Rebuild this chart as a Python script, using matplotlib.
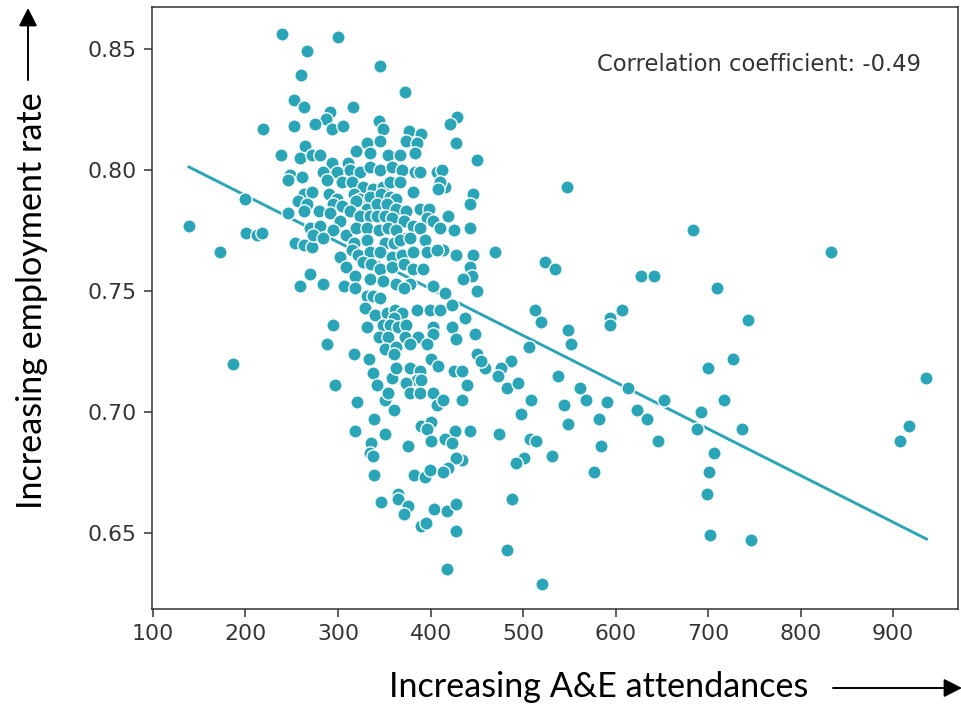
import matplotlib
matplotlib.use("Agg")
import matplotlib.pyplot as plt

# A&E attendances (x) and employment rate (y)
attendances = [
    240, 300, 267, 345, 260, 372, 252, 263, 291, 316, 287, 294, 305, 219, 252, 275, 344, 349, 429, 421, 377, 390,
    139, 172, 201, 212, 218, 200, 187,
    264, 331, 345, 374, 385, 427,
    238, 259, 272, 281, 293, 311, 319, 335, 354, 367, 383, 450,
    248, 246, 261, 284, 299, 313, 324, 335, 345, 358, 369, 383, 389, 407, 412, 416, 410,
    288, 304, 315, 327, 338, 349, 356, 367, 381, 408, 446,
    263, 272, 290, 299, 317, 324, 335, 347, 356, 363, 443,
    257, 266, 295, 304, 320, 331, 342, 353, 363, 374, 389, 398,
    246, 263, 279, 291, 302, 313, 324, 335, 342, 351, 358, 371, 381, 396, 403, 419,
    270, 281, 295, 309, 320, 331, 344, 354, 363, 374, 389, 410, 425, 443,
    254, 263, 272, 273, 284, 317, 331, 351, 360, 367, 378, 394, 414, 427,
    302, 315, 322, 335, 345, 358, 369, 381, 396, 407, 446,
    270, 309, 327, 336, 345, 358, 371, 381, 392, 443, 445,
    259, 284, 306, 318, 335, 349, 363, 378, 403, 435,
    318, 331, 338, 345, 371, 416, 329, 340, 353, 362, 369, 360, 385, 399, 410, 423, 437, 450,
    295, 331, 349, 356, 365, 374, 344, 354, 372, 387, 403, 403, 396, 423, 428, 448,
    288, 351, 363, 378, 360, 400, 408, 317, 333, 450, 338, 358, 363, 378, 389, 385, 374, 390,
    425, 434, 439, 297, 342, 351, 360, 354, 378, 389, 403, 407, 414, 434, 321, 339, 390, 400,
    396, 318, 351, 426, 443,
    336, 335, 338, 376, 401, 416, 423, 434, 428, 419, 414, 339, 382, 394, 399, 346, 365, 365,
    376, 371, 404, 418, 427, 390, 395, 427, 418,
    547, 684, 470, 524, 535, 628, 641, 710, 513, 519, 549, 552, 594, 594, 607, 459, 455, 506,
    487, 476, 473, 483, 494, 538, 509, 498, 474, 508, 514, 501, 492, 531, 544, 549, 562, 568,
    591, 582, 584, 577, 613, 623, 634, 652, 646, 692, 688, 700, 717, 706, 701, 699, 702, 488,
    483, 520,
    833, 743, 727, 737, 746, 936, 917, 907,
]
employment = [
    .856, .855, .849, .843, .839, .832, .829, .826, .824, .826, .821, .817, .818, .817, .818, .819, .820, .817, .822, .819, .816, .815,
    .777, .766, .774, .773, .774, .788, .720,
    .810, .811, .812, .812, .811, .811,
    .806, .805, .806, .806, .803, .803, .808, .807, .806, .806, .807, .804,
    .798, .796, .797, .799, .799, .800, .799, .801, .800, .801, .800, .799, .799, .799, .800, .793, .795,
    .796, .795, .795, .793, .792, .793, .795, .795, .791, .792, .790,
    .790, .791, .790, .788, .790, .788, .789, .790, .789, .788, .786,
    .787, .786, .786, .785, .787, .784, .786, .786, .784, .783, .784, .784,
    .782, .783, .783, .782, .779, .783, .781, .781, .781, .781, .780, .779, .777, .780, .779, .781,
    .776, .777, .775, .773, .776, .776, .775, .776, .775, .772, .776, .776, .775, .776,
    .770, .769, .768, .773, .772, .770, .771, .770, .770, .771, .772, .771, .767, .765,
    .764, .767, .765, .766, .766, .764, .765, .766, .766, .767, .765,
    .757, .760, .762, .761, .759, .760, .761, .759, .759, .760, .756,
    .752, .753, .752, .756, .755, .754, .753, .753, .752, .755,
    .751, .748, .748, .747, .751, .749, .743, .740, .741, .742, .741, .739, .742, .742, .742, .744, .739, .750,
    .736, .735, .736, .736, .735, .736, .731, .731, .731, .731, .735, .732, .728, .735, .730, .732,
    .728, .726, .727, .728, .724, .722, .719, .724, .722, .724, .716, .714, .718, .718, .717, .713, .712, .713,
    .717, .717, .711, .711, .711, .705, .701, .708, .708, .708, .708, .703, .705, .705, .704, .697, .694, .696,
    .693, .692, .691, .692, .692,
    .687, .683, .682, .686, .688, .689, .687, .680, .681, .677, .675, .674, .674, .673, .676, .663, .666, .664,
    .661, .658, .660, .659, .662, .653, .654, .651, .635,
    .793, .775, .766, .762, .759, .756, .756, .751, .742, .737, .734, .728, .739, .736, .742, .718, .721, .727,
    .721, .718, .715, .710, .712, .715, .705, .699, .691, .689, .688, .681, .679, .682, .703, .695, .710, .705,
    .704, .697, .686, .675, .710, .701, .697, .705, .688, .700, .693, .718, .705, .683, .675, .666, .649, .664,
    .643, .629,
    .766, .738, .722, .693, .647, .714, .694, .688,
]

# fitted trend line end points
trend_x = [139, 936]
trend_y = [0.8012, 0.6475]

x_ticks = [100, 200, 300, 400, 500, 600, 700, 800, 900]
y_ticks = [0.65, 0.70, 0.75, 0.80, 0.85]
corr_text = "Correlation coefficient: -0.49"
x_label = "Increasing A&E attendances"
y_label = "Increasing employment rate"

teal = "#2aa5b8"
dark = "#333333"

fig = plt.figure(figsize=(9.62, 7.05), dpi=100)
ax = fig.add_axes([0.158, 0.1362, 0.8378, 0.8532])

ax.scatter(attendances, employment, s=92, c=teal, edgecolors="white", linewidths=1.0, zorder=3)
ax.plot(trend_x, trend_y, color=teal, linewidth=2.1, zorder=2)

ax.set_xlim(99, 970)
ax.set_ylim(0.6186, 0.8671)
ax.set_xticks(x_ticks)
ax.set_yticks(y_ticks)
ax.set_yticklabels([f"{v:.2f}" for v in y_ticks])
ax.tick_params(labelsize=15.8, labelcolor=dark, color=dark, length=6, width=1.1, pad=5)
for sp in ax.spines.values():
    sp.set_color(dark)
    sp.set_linewidth(1.1)

ax.text(580, 0.8434, corr_text, fontsize=16.3, color=dark, ha="left", va="center")

# annotation labels with arrows (outside the axes)
fig.text(0.622, 0.011, x_label, fontsize=24.6, family="Lato", ha="center", va="baseline", color="black")
fig.text(0.033, 0.574, y_label, fontsize=24.6, family="Lato", ha="center", va="center",
         rotation=90, color="black")
arrow_style = "-|>,head_length=0.55,head_width=0.28"
fig.patches.append(matplotlib.patches.FancyArrowPatch(
    (833 / 962, 1 - 688 / 705), (962 / 962, 1 - 688 / 705), transform=fig.transFigure,
    arrowstyle=arrow_style, mutation_scale=20, color="black", linewidth=1.4, shrinkA=0, shrinkB=0))
fig.patches.append(matplotlib.patches.FancyArrowPatch(
    (28 / 962, 1 - 80 / 705), (28 / 962, 1 - 8 / 705), transform=fig.transFigure,
    arrowstyle=arrow_style, mutation_scale=20, color="black", linewidth=1.4, shrinkA=0, shrinkB=0))

fig.savefig("out.png", dpi=100, facecolor="white")
